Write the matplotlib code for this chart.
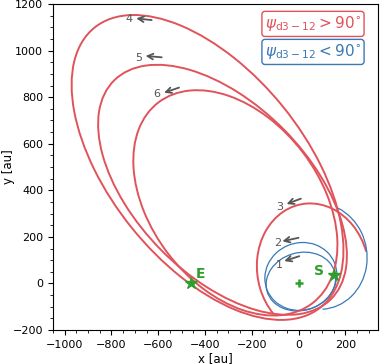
import numpy as np
import matplotlib.pyplot as plt
from matplotlib.patches import Arc
from matplotlib.ticker import AutoMinorLocator

# orbit pieces, ellipses (centre, full width/height, tilt, arc range) [au, deg]
arc_cx = [10, 10, 62, 86, -389, -325, -270]
arc_cy = [8, 30, 60, 117, 498, 402, 346]
arc_w = [301, 311, 569, 457, 1542, 1320, 1085]
arc_h = [248, 288, 478, 414, 830, 737, 722]
arc_angle = [16.3, 22.5, 98.6, 98.2, 128.8, 134.5, 127.3]
arc_theta1 = [0, 0, -80, 176, 0, 0, 0]
arc_theta2 = [360, 360, 130, 330, 360, 360, 360]
arc_obtuse = [False, False, True, False, True, True, True]  # psi_d3-12 > 90 deg

# loop numbers and direction arrows
loop_num = ["1", "2", "3", "4", "5", "6"]
num_x = [-83, -90, -80, -725, -685, -606]
num_y = [81, 174, 327, 1134, 969, 812]
arr_x0 = [3, 0, 10, -628, -585, -511]
arr_y0 = [117, 196, 364, 1131, 971, 841]
arr_x1 = [-61, -69, -51, -694, -654, -575]
arr_y1 = [96, 181, 341, 1138, 977, 819]

# stars
star_x = [-460, 153]
star_y = [0, 36]
star_name = ["E", "S"]
name_x = [-418, 89]
name_y = [39, 53]

red = "#e0535b"
blue = "#3a78b5"
green = "#2ca02c"

fig = plt.figure(figsize=(3.82, 3.64), dpi=100)
ax = fig.add_axes([53 / 382, 34 / 364, 325 / 382, 326 / 364])

for i in range(len(arc_cx)):
    c = red if arc_obtuse[i] else blue
    lw = 1.4 if arc_obtuse[i] else 0.9
    ax.add_patch(Arc((arc_cx[i], arc_cy[i]), arc_w[i], arc_h[i], angle=arc_angle[i],
                     theta1=arc_theta1[i], theta2=arc_theta2[i], color=c, lw=lw))

for i in range(len(loop_num)):
    ax.annotate("", xy=(arr_x1[i], arr_y1[i]), xytext=(arr_x0[i], arr_y0[i]),
                arrowprops=dict(arrowstyle="->", color="#555555", lw=1.3, shrinkA=0, shrinkB=0))
    ax.text(num_x[i], num_y[i], loop_num[i], color="#555555", fontsize=8, ha="center", va="center")

ax.plot(star_x, star_y, "*", color=green, ms=9, zorder=5)
ax.plot([0], [0], "+", color=green, ms=6, mew=1.8, zorder=5)
for i in range(len(star_name)):
    ax.text(name_x[i], name_y[i], star_name[i], color=green, fontsize=10, fontweight="bold",
            ha="center", va="center")

ax.text(0.80, 0.939, r"$\psi_{\rm d3-12} > 90^{\circ}$", transform=ax.transAxes, color=red,
        fontsize=11, ha="center", va="center",
        bbox=dict(boxstyle="round,pad=0.2", fc="white", ec=red, lw=1))
ax.text(0.80, 0.853, r"$\psi_{\rm d3-12} < 90^{\circ}$", transform=ax.transAxes, color=blue,
        fontsize=11, ha="center", va="center",
        bbox=dict(boxstyle="round,pad=0.2", fc="white", ec=blue, lw=1))

ax.set_xlim(-1050, 340)
ax.set_ylim(-200, 1200)
ax.set_xticks([-1000, -800, -600, -400, -200, 0, 200])
ax.set_yticks([-200, 0, 200, 400, 600, 800, 1000, 1200])
ax.xaxis.set_minor_locator(AutoMinorLocator(4))
ax.yaxis.set_minor_locator(AutoMinorLocator(4))
ax.tick_params(labelsize=8)
ax.set_xlabel("x [au]", fontsize=8.5, labelpad=2)
ax.set_ylabel("y [au]", fontsize=8.5)
ax.yaxis.set_label_coords(-0.118, 0.5)

plt.savefig("out.png", dpi=100)
